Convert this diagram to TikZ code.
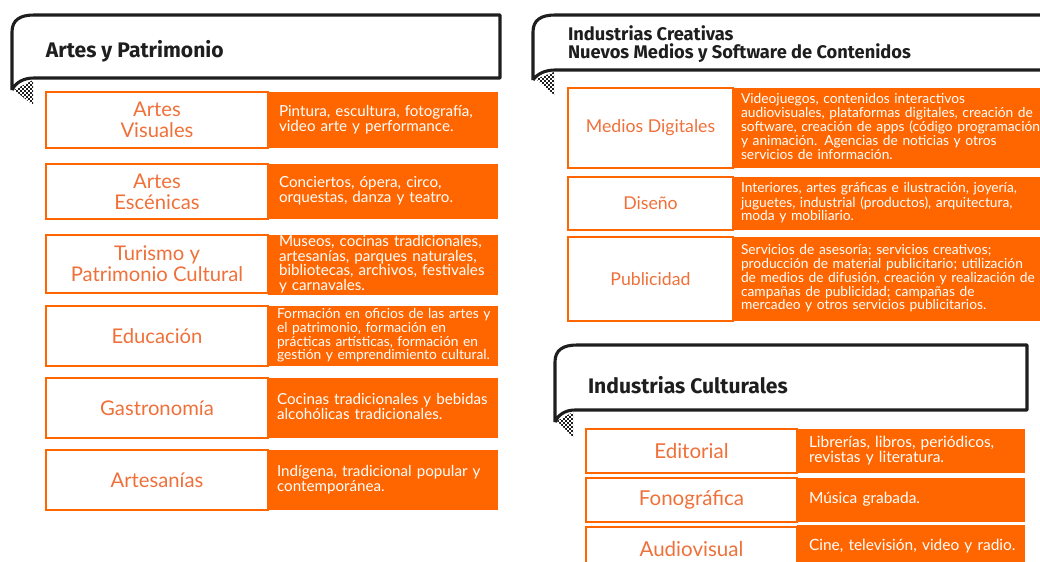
\documentclass[tikz,border=0pt]{standalone}
\usepackage{fontspec}
\setmainfont{Lato}
\newfontfamily\titulofont{Fira Sans}
\usepackage{tikz}

\definecolor{naranja}{HTML}{FF6600}
\definecolor{naranjaclaro}{HTML}{F0703A}
\definecolor{tinta}{HTML}{1E1E1E}
\newlength\pxu
\setlength\pxu{0.025cm}
% lines of a description, never rewrapped
\newcommand\renglones[1]{\begin{tabular}{@{}l@{}}#1\end{tabular}}

\begin{document}
\begin{tikzpicture}[x=0.025cm, y=-0.025cm,
  every node/.style={outer sep=0pt},
  banner/.style={draw=tinta, line width=2.2pt, fill=white, line join=round},
  titulo/.style={anchor=west, align=left, text=tinta, inner sep=0pt,
    font=\titulofont\bfseries\fontsize{#1}{12.6}\selectfont},
  campo/.style={anchor=north west, draw=naranja, line width=2pt, fill=white,
    text=naranjaclaro, align=center, inner sep=0pt},
  detalle/.style={anchor=north west, fill=naranja, text=white, align=left,
    inner ysep=0pt},
  campoA/.style={campo, minimum width=222\pxu, font=\fontsize{14.4}{15}\selectfont},
  detalleA/.style={detalle, inner xsep=11\pxu, text width=208\pxu,
    font=\fontsize{10.8}{8.8}\selectfont},
  cercaA/.style={inner xsep=9\pxu, text width=212\pxu},
  campoB/.style={campo, minimum width=165\pxu, font=\fontsize{12.6}{15}\selectfont},
  detalleB/.style={detalle, inner xsep=8\pxu, text width=300\pxu,
    font=\fontsize{9.8}{8.6}\selectfont},
  campoC/.style={campo, minimum width=211\pxu, font=\fontsize{14.6}{15}\selectfont},
  detalleC/.style={detalle, inner xsep=12\pxu, text width=204\pxu,
    font=\fontsize{11}{9.5}\selectfont}]
\clip (0,0) rectangle (1040,561);

% checkered backs of the ribbon folds
\foreach \fx/\fy/\fa/\fb/\fc in {14/90/33/80/105, 536/79/554/72/95, 557/421/573/412/437}{
  \begin{scope}
    \clip (\fx,\fy) -- (\fa,\fb) -- (\fa,\fc) -- cycle;
    \foreach \i in {0,...,10}
      \foreach \j in {0,...,13}{
        \pgfmathtruncatemacro\paridad{mod(\i+\j,2)}
        \ifnum\paridad=0
          \fill[tinta] (\fx+2*\i,\fb+2*\j) rectangle ++(1.6,1.6);
        \fi
      }
  \end{scope}
}

% ribbons
\draw[banner] (12,90) -- (12,32) .. controls (12,20) and (20,15) .. (34,15) -- (500,15) -- (500,78) -- (34,78) .. controls (24,78) and (16,82) .. (12,90);
\draw[banner] (533,80) -- (533,32) .. controls (533,20) and (541,15) .. (555,15) -- (1060,15) -- (1060,70) -- (555,70) .. controls (545,70) and (537,74) .. (533,80);
\draw[banner] (555,422) -- (555,362) .. controls (555,350) and (563,345) .. (577,345) -- (1027,345) -- (1027,410) -- (575,410) .. controls (565,410) and (558,415) .. (555,422);

\node[titulo=15] (patrimonio) at (46,51) {Artes y Patrimonio};
\node[titulo=13] (creativas) at (568,44) {Industrias Creativas\\Nuevos Medios y Software de Contenidos};
\node[titulo=15] (culturales) at (588,385) {Industrias Culturales};

% artes y patrimonio
\node[detalleA, minimum height=56\pxu] (visuales-d) at (268,92) {\renglones{Pintura, escultura, fotografía,\\video arte y performance.}};
\node[campoA, minimum height=56\pxu] (visuales) at (46,92) {Artes\\Visuales};
\node[detalleA, minimum height=55\pxu] (escenicas-d) at (268,164) {\renglones{Conciertos, ópera, circo,\\orquestas, danza y teatro.}};
\node[campoA, minimum height=55\pxu] (escenicas) at (46,164) {Artes\\Escénicas};
\node[detalleA, minimum height=58\pxu] (turismo-d) at (268,235) {\renglones{Museos, cocinas tradicionales,\\artesanías, parques naturales,\\bibliotecas, archivos, festivales\\y carnavales.}};
\node[campoA, minimum height=58\pxu] (turismo) at (46,235) {Turismo y\\Patrimonio Cultural};
\node[detalleA, cercaA, minimum height=60\pxu, font=\fontsize{9.8}{8.8}\selectfont] (educacion-d) at (268,306) {\renglones{Formación en oficios de las artes y\\el patrimonio, formación en\\prácticas artísticas, formación en\\gestión y emprendimiento cultural.}};
\node[campoA, minimum height=60\pxu] (educacion) at (46,306) {Educación};
\node[detalleA, cercaA, minimum height=60\pxu] (gastronomia-d) at (268,378) {\renglones{Cocinas tradicionales y bebidas\\alcohólicas tradicionales.}};
\node[campoA, minimum height=60\pxu] (gastronomia) at (46,378) {Gastronomía};
\node[detalleA, cercaA, minimum height=60\pxu] (artesanias-d) at (268,450) {\renglones{Indígena, tradicional popular y\\contemporánea.}};
\node[campoA, minimum height=60\pxu] (artesanias) at (46,450) {Artesanías};

% industrias creativas
\node[detalleB, minimum height=80\pxu] (digitales-d) at (733,88) {\renglones{Videojuegos, contenidos interactivos\\audiovisuales, plataformas digitales, creación de\\software, creación de apps (código programación)\\y animación. Agencias de noticias y otros\\servicios de información.}};
\node[campoB, minimum height=80\pxu] (digitales) at (568,88) {Medios Digitales};
\node[detalleB, minimum height=53\pxu] (diseno-d) at (733,177) {\renglones{Interiores, artes gráficas e ilustración, joyería,\\juguetes, industrial (productos), arquitectura,\\moda y mobiliario.}};
\node[campoB, minimum height=53\pxu] (diseno) at (568,177) {Diseño};
\node[detalleB, minimum height=84\pxu] (publicidad-d) at (733,237) {\renglones{Servicios de asesoría; servicios creativos;\\producción de material publicitario; utilización\\de medios de difusión, creación y realización de\\campañas de publicidad; campañas de\\mercadeo y otros servicios publicitarios.}};
\node[campoB, minimum height=84\pxu] (publicidad) at (568,237) {Publicidad};

% industrias culturales
\node[detalleC, minimum height=44\pxu] (editorial-d) at (797,429) {\renglones{Librerías, libros, periódicos,\\revistas y literatura.}};
\node[campoC, minimum height=44\pxu] (editorial) at (586,429) {Editorial};
\node[detalleC, minimum height=44\pxu] (fonografica-d) at (797,478) {\renglones{Música grabada.}};
\node[campoC, minimum height=44\pxu] (fonografica) at (586,478) {Fonográfica};
\node[detalleC, minimum height=44\pxu, anchor=west] (audiovisual-d) at (797,547) {\renglones{Cine, televisión, video y radio.}};
\node[campoC, minimum height=44\pxu] (audiovisual) at (586,527) {Audiovisual};
\end{tikzpicture}
\end{document}
